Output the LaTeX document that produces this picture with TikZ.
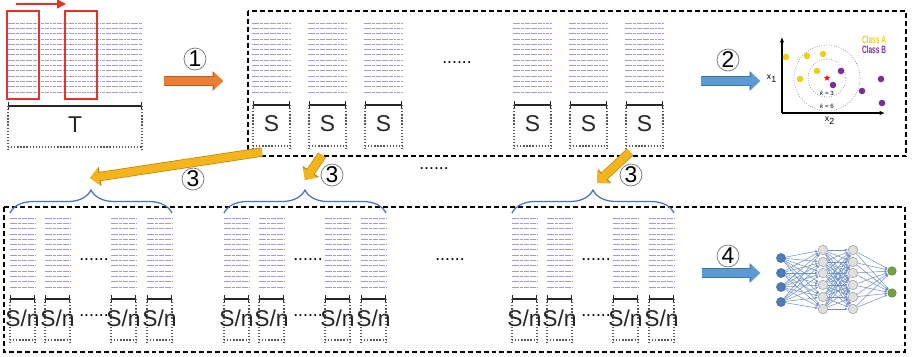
\documentclass[tikz,border=0pt]{standalone}
\usepackage{fontspec}
\setmainfont{Liberation Sans}
\usetikzlibrary{arrows.meta,decorations.pathreplacing,shapes.geometric}
\definecolor{lineviolet}{RGB}{128,122,215}
\definecolor{winred}{RGB}{226,52,44}
\definecolor{arrorange}{HTML}{ED7D31}
\definecolor{arrblue}{HTML}{5B9BD5}
\definecolor{arrgold}{HTML}{F4B41A}
\definecolor{braceblue}{HTML}{4472C4}
\definecolor{classA}{HTML}{F2CF14}
\definecolor{classB}{HTML}{7D2E9E}
\definecolor{nnblue}{HTML}{4A7EBB}
\definecolor{nngreen}{HTML}{77A33C}
\definecolor{nnedge}{HTML}{7090C8}
% lines of a text sample: x, top y, width
\newcommand{\textblock}[3]{%
  \foreach \i in {0,...,13}{%
    \draw[dline] (#1,{#2+\i*5.3}) -- ++(#3,0);%
  }%
}
% length bar with dotted frame: name, x, y, width, label
\newcommand{\spanmark}[5]{%
  \draw[spanbar] (#2,#3) -- ++(#4,0);%
  \draw[dotline] (#2,#3) -- ++(0,46) (#2+#4,#3) -- ++(0,46);%
  \draw[dotline] (#2,#3+41) -- ++(#4,0);%
  \node[spanlabel] (#1) at (#2+#4/2,#3+19) {#5};%
}

\begin{document}
\begin{tikzpicture}[x=0.02cm, y=-0.02cm,
  dline/.style={draw=lineviolet, line width=0.4pt, opacity=0.75,
    dash pattern=on 2.6pt off 0.5pt on 1pt off 0.5pt on 1.8pt off 0.6pt},
  spanbar/.style={line width=0.75pt, black!85, {Bar[width=4.5pt]}-{Bar[width=4.5pt]}},
  dotline/.style={black!65, line width=0.75pt, densely dotted},
  spanlabel/.style={font=\fontsize{13}{13}\selectfont, inner sep=0pt, text=black!85},
  winbox/.style={draw=winred, line width=0.8pt},
  framebox/.style={line width=0.7pt, dash pattern=on 2.8pt off 1.7pt},
  dots/.style={font=\fontsize{10}{10}\selectfont, inner sep=0pt},
  numcirc/.style={circle, draw=black!55, line width=0.4pt, minimum size=0.44cm, inner sep=0pt, font=\fontsize{13}{13}\selectfont},
  blockarr/.style={draw=#1, line width=4.5pt, -{Triangle[width=9.6pt,length=5.2pt]},
    preaction={draw=#1!75!black, line width=5.3pt, -{Triangle[width=10.8pt,length=5.9pt]}}},
  groupbrace/.style={draw=braceblue, line width=0.7pt, decorate, decoration={brace, amplitude=0.46cm}},
  ring/.style={draw=black!45, line width=0.4pt, densely dotted},
  axis/.style={line width=0.6pt, -{Latex[length=3pt,width=2.5pt]}},
  tinytext/.style={font=\fontsize{5}{5}\selectfont, inner sep=0pt},
  nnin/.style={circle, fill=nnblue, draw=nnblue!80!black, line width=0.3pt, minimum size=0.18cm, inner sep=0pt},
  nnhid/.style={circle, fill=black!12, draw=black!40, line width=0.3pt, minimum size=0.19cm, inner sep=0pt},
  nnout/.style={circle, fill=nngreen, draw=nngreen!80!black, line width=0.3pt, minimum size=0.17cm, inner sep=0pt},
  nnedge/.style={draw=nnedge, line width=0.3pt, -{Latex[length=1.6pt,width=1.4pt]}}]
  \useasboundingbox (0,0) rectangle (914,356);

  % whole series
  \textblock{8}{23}{135}
  \draw[winbox] (7,11) rectangle (39,99);
  \draw[winbox] (65,11) rectangle (97,99);
  \coordinate (slide0) at (16,4);
  \coordinate (slide1) at (66,4);
  \draw[winred, line width=0.9pt, -{Triangle[width=5pt,length=5pt]}] (slide0) -- (slide1);
  \spanmark{total}{8}{106}{134}{T}

  \node[numcirc] (stepone) at (195,59) {1};
  \coordinate (oa) at (164,81);
  \coordinate (ob) at (223,81);
  \draw[blockarr=arrorange] (oa) -- (ob);

  % windows of length S
  \draw[framebox] (248,11) rectangle (906,156);
  \foreach \x [count=\k] in {252,308,364,513,569,625}{
    \textblock{\x}{23}{39}
    \spanmark{s\k}{\x+1}{105}{37}{S}
  }
  \node[dots] (sdots) at (457,63) {......};

  \node[numcirc] (steptwo) at (728,60) {2};
  \coordinate (ba) at (701,81);
  \coordinate (bb) at (760,81);
  \draw[blockarr=arrblue] (ba) -- (bb);

  % knn
  \coordinate (org) at (782,113);
  \draw[axis] (org) -- (782,37);
  \draw[axis] (org) -- (885,113);
  \node[tinytext] (xone) at (772,79) {x\textsubscript{1}};
  \node[tinytext] (xtwo) at (830,121) {x\textsubscript{2}};
  \draw[ring] (827,78) circle[radius=19];
  \draw[ring] (827,78) circle[radius=33];
  \foreach \px/\py in {786/57,807/56,823/54,817/71,800/79}
    \fill[classA] (\px,\py) circle[radius=3.3];
  \foreach \px/\py in {841/71,833/85,862/91,881/79,882/103}
    \fill[classB] (\px,\py) circle[radius=3.3];
  \node[star, star points=5, star point ratio=2.4, fill=red, minimum size=0.13cm, inner sep=0pt] (query) at (827,78) {};
  \node[font=\fontsize{3.5}{3.5}\selectfont, inner sep=0pt] (kthree) at (827,93) {\textit{k} = 3};
  \node[font=\fontsize{3.5}{3.5}\selectfont, inner sep=0pt] (ksix) at (827,106) {\textit{k} = 6};
  \node[font=\fontsize{6}{6}\selectfont\bfseries, text=classA, inner sep=0pt] (clsa) at (874,40) {\scalebox{0.62}[1]{Class A}};
  \node[font=\fontsize{6}{6}\selectfont\bfseries, text=classB, inner sep=0pt] (clsb) at (874,50) {\scalebox{0.62}[1]{Class B}};

  \node[dots] (middots) at (434,169) {......};

  % sub-windows of length S/n
  \draw[framebox] (4,207) rectangle (905,352);
  \foreach \g/\m in {10/1,224/2,512/3}{
    \foreach \o [count=\k] in {0,35,101,137}{
      \textblock{\g+\o}{218}{25}
      \spanmark{p\m\k}{\g+\o}{299}{25}{S/n}
    }
    \node[dots] (gapa\m) at (\g+84,260) {......};
    \node[dots] (gapb\m) at (\g+84,316) {......};
    \draw[groupbrace] (\g,213) -- (\g+162,213);
  }
  \node[dots] (lowdots) at (450,260) {......};

  \coordinate (ya) at (262,152);
  \coordinate (yb) at (90,178);
  \coordinate (yc) at (322,155);
  \coordinate (yd) at (305,180);
  \coordinate (ye) at (630,152);
  \coordinate (yf) at (597,183);
  \draw[blockarr=arrgold] (ya) -- (yb);
  \draw[blockarr=arrgold] (yc) -- (yd);
  \draw[blockarr=arrgold] (ye) -- (yf);
  \node[numcirc] (stepthreea) at (193,179) {3};
  \node[numcirc] (stepthreeb) at (332,175) {3};
  \node[numcirc] (stepthreec) at (631,175) {3};

  \node[numcirc] (stepfour) at (728,256) {4};
  \coordinate (fa) at (702,273);
  \coordinate (fb) at (760,273);
  \draw[blockarr=arrblue] (fa) -- (fb);

  % network
  \foreach \i/\yy in {1/258,2/273,3/287,4/302}
    \node[nnin] (in\i) at (781,\yy) {};
  \foreach \j/\yy in {1/250,2/262,3/273,4/285,5/297,6/309}{
    \node[nnhid] (ha\j) at (823,\yy) {};
    \node[nnhid] (hb\j) at (853,\yy) {};
  }
  \foreach \k/\yy in {1/271,2/293}
    \node[nnout] (out\k) at (892,\yy) {};
  \foreach \i in {1,...,4}
    \foreach \j in {1,...,6}
      \draw[nnedge] (in\i) -- (ha\j);
  \foreach \i in {1,...,6}
    \foreach \j in {1,...,6}
      \draw[nnedge] (ha\i) -- (hb\j);
  \foreach \i in {1,...,6}
    \foreach \k in {1,2}
      \draw[nnedge] (hb\i) -- (out\k);
\end{tikzpicture}
\end{document}
